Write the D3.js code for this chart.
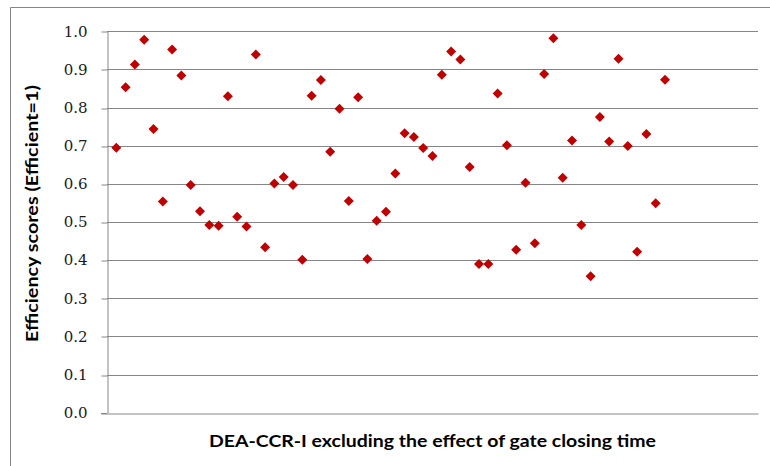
<!DOCTYPE html>
<html>
<head>
<meta charset="utf-8">
<script src="https://cdn.jsdelivr.net/npm/d3@7"></script>
<style>
  html, body { margin: 0; padding: 0; background: #fff; }
  svg { display: block; }
</style>
</head>
<body>
<svg id="chart" width="770" height="466"></svg>
<script>
// Efficiency score of each unit (DEA-CCR-I, gate closing time excluded)
const unitIds = d3.range(1, 61);
const scores = [
  0.695, 0.853, 0.913, 0.978, 0.744, 0.554, 0.952, 0.884, 0.597, 0.528,
  0.492, 0.490, 0.830, 0.514, 0.488, 0.939, 0.434, 0.601, 0.618, 0.597,
  0.401, 0.831, 0.872, 0.684, 0.797, 0.555, 0.827, 0.403, 0.503, 0.527,
  0.627, 0.733, 0.723, 0.694, 0.673, 0.886, 0.947, 0.926, 0.644, 0.390,
  0.390, 0.837, 0.701, 0.427, 0.603, 0.444, 0.888, 0.982, 0.616, 0.714,
  0.492, 0.358, 0.775, 0.711, 0.928, 0.699, 0.422, 0.731, 0.549, 0.873
];
const yTicks = [0, 0.1, 0.2, 0.3, 0.4, 0.5, 0.6, 0.7, 0.8, 0.9, 1.0];
const xDomain = [0, 70];
const yTitle = "Efficiency scores (Efficient=1)";
const xTitle = "DEA-CCR-I excluding the effect of gate closing time";

const svg = d3.select("#chart");
const plotLeft = 107, plotRight = 758, plotTop = 31.3, plotBottom = 412.7;
const gridColor = "#868686";
const markColor = "#C00000";

const x = d3.scaleLinear().domain(xDomain).range([plotLeft, plotRight]);
const y = d3.scaleLinear().domain([0, 1]).range([plotBottom, plotTop]);

// outer chart frame
svg.append("path")
  .attr("d", `M10.5,466 V7.5 H770`)
  .attr("fill", "none")
  .attr("stroke", gridColor)
  .attr("stroke-width", 1);

// horizontal gridlines
svg.append("g")
  .selectAll("line")
  .data(yTicks.filter(d => d > 0))
  .join("line")
  .attr("x1", plotLeft).attr("x2", plotRight)
  .attr("y1", d => Math.round(y(d)) + 0.5)
  .attr("y2", d => Math.round(y(d)) + 0.5)
  .attr("stroke", gridColor)
  .attr("stroke-width", 1);

// y axis with tick labels
const yAxis = d3.axisLeft(y)
  .tickValues(yTicks)
  .tickFormat(d3.format(".1f"))
  .tickSize(6)
  .tickSizeOuter(0)
  .tickPadding(14);

const gy = svg.append("g")
  .attr("transform", `translate(${plotLeft + 0.5},0)`)
  .call(yAxis);
gy.select(".domain").attr("stroke", gridColor);
gy.selectAll(".tick line")
  .attr("stroke", gridColor)
  .attr("transform", function(d) {
    const yy = y(d);
    return `translate(0,${Math.round(yy) + 0.5 - yy})`;
  });
gy.selectAll(".tick text")
  .attr("font-family", "'DejaVu Serif', serif")
  .attr("font-size", 15)
  .attr("fill", "#1a1a1a");

// x axis line (no tick labels)
const xAxis = d3.axisBottom(x).tickValues([]).tickSizeOuter(0);
const gx = svg.append("g")
  .attr("transform", `translate(0,${Math.round(plotBottom) + 0.5})`)
  .call(xAxis);
gx.select(".domain").attr("stroke", gridColor);
svg.append("line")
  .attr("x1", plotLeft - 6).attr("x2", plotLeft)
  .attr("y1", Math.round(plotBottom) + 0.5).attr("y2", Math.round(plotBottom) + 0.5)
  .attr("stroke", gridColor);

// diamond markers
const diamond = d3.symbol().type(d3.symbolSquare).size(50);
svg.append("g")
  .selectAll("path")
  .data(unitIds.map((id, i) => ({ id, v: scores[i] })))
  .join("path")
  .attr("d", diamond)
  .attr("transform", d => `translate(${x(d.id)},${y(d.v)}) rotate(45)`)
  .attr("fill", markColor);

// axis titles
svg.append("text")
  .attr("transform", `translate(38,213.5) rotate(-90)`)
  .attr("text-anchor", "middle")
  .attr("font-family", "Lato, 'Open Sans', sans-serif")
  .attr("font-weight", "bold")
  .attr("font-size", 17)
  .attr("textLength", 257)
  .attr("lengthAdjust", "spacingAndGlyphs")
  .attr("fill", "#000")
  .text(yTitle);

svg.append("text")
  .attr("x", (plotLeft + plotRight) / 2)
  .attr("y", 447)
  .attr("text-anchor", "middle")
  .attr("font-family", "Lato, 'Open Sans', sans-serif")
  .attr("font-weight", "bold")
  .attr("font-size", 17)
  .attr("textLength", 447)
  .attr("lengthAdjust", "spacingAndGlyphs")
  .attr("fill", "#000")
  .text(xTitle);
</script>
</body>
</html>
